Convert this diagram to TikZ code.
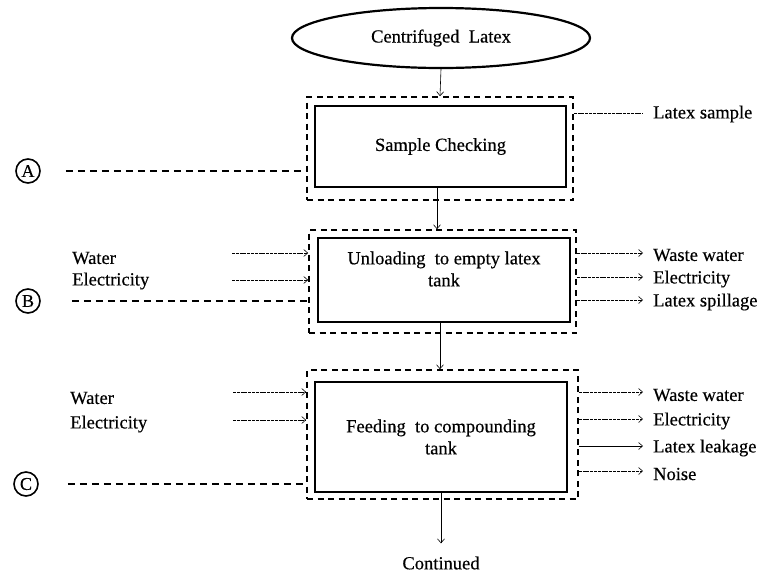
\documentclass[tikz,border=0pt]{standalone}
\usepackage{fontspec}
\setmainfont[FakeBold=0.4]{Liberation Serif}
\usetikzlibrary{arrows.meta,shapes.geometric}
\begin{document}
\begin{tikzpicture}[x=1pt,y=-1pt,
  txt/.style={font=\fontsize{18.5}{22}\selectfont, inner sep=0pt},
  solidbox/.style={draw, line width=2.6pt, inner sep=0pt, align=center, font=\fontsize{18.5}{22}\selectfont},
  dashbox/.style={draw, dash pattern=on 6pt off 4.5pt, line width=1.7pt, inner sep=0pt},
  dashline/.style={draw, dash pattern=on 7pt off 5pt, line width=1.7pt},
  letter/.style={circle, draw, line width=1.6pt, minimum size=24pt, inner sep=0pt, font=\fontsize{18}{18}\selectfont},
  barb/.style={-{Straight Barb[length=4pt,width=7pt,line width=0.6pt]}},
  thinarrow/.style={barb, line width=0.5pt, dash pattern=on 3pt off 0.8pt},
  flow/.style={line width=0.6pt},
]
\useasboundingbox (0,0) rectangle (762,574);

% top ellipse
\node[ellipse, draw, line width=2.2pt, minimum width=298pt, minimum height=60pt, font=\fontsize{18.5}{20}\selectfont] (cl) at (441,38) {Centrifuged\ \ Latex};

% stage A
\node[dashbox, minimum width=266pt, minimum height=103pt] (Ad) at (440,148.5) {};
\node[solidbox, minimum width=251pt, minimum height=81pt] (As) at (440.5,146.5) {Sample Checking};

% stage B
\node[dashbox, minimum width=267pt, minimum height=103pt] (Bd) at (442.5,281.5) {};
\node[solidbox, minimum width=252pt, minimum height=84pt] (Bs) at (444,280) {};
\node[txt, align=center] (Bt) at (444,269) {Unloading\ \ to empty latex\\tank};

% stage C
\node[dashbox, minimum width=271pt, minimum height=129pt] (Cd) at (442.5,434.5) {};
\node[solidbox, minimum width=252pt, minimum height=110pt] (Cs) at (441,437) {Feeding\ \ to compounding\\tank};

% flow connectors
\draw[flow, barb] (cl.south) -- (Ad.north);
\draw[flow, barb] (As.south -| 437,0) -- (Bd.north -| 437,0);
\draw[line width=1pt, barb] (Bs.south -| 440,0) -- (Cd.north -| 440,0);
\draw[flow, barb] (Cs.south) -- ++(0,50) coordinate (cont);
\node[txt, anchor=north] (contt) at ([yshift=-13pt]cont) {Continued};

% circled letters and dashed leaders
\node[letter] (A) at (28,171) {A};
\node[letter] (B) at (28,301) {B};
\node[letter] (C) at (26,484) {C};
\draw[dashline] ([xshift=25pt]A.east) -- (Ad.west |- A);
\draw[dashline] ([xshift=31pt]B.east) -- (Bd.west |- B);
\draw[dashline] ([xshift=29pt]C.east) -- (Cd.west |- C);

% inputs B
\node[txt, anchor=west] (Bwt) at (72,258) {Water};
\node[txt, anchor=west] (Bet) at (72,281) {Electricity};
\coordinate (Bw) at (232,253);
\coordinate (Be) at (232,280);
\draw[thinarrow] (Bw) -- (Bd.west |- Bw);
\draw[thinarrow] (Be) -- (Bd.west |- Be);

% inputs C
\node[txt, anchor=west] (Cwt) at (70,398) {Water};
\node[txt, anchor=west] (Cet) at (70,424) {Electricity};
\coordinate (Cw) at (233,392);
\coordinate (Ce) at (233,420);
\draw[thinarrow] (Cw) -- (Cd.west |- Cw);
\draw[thinarrow] (Ce) -- (Cd.west |- Ce);

% outputs A
\coordinate (Ao1) at (643,113);
\draw[line width=0.5pt, dash pattern=on 3pt off 0.8pt] (Ad.east |- Ao1) -- (Ao1);
\node[txt, anchor=west] (Aot1) at (653,114) {Latex sample};

% outputs B
\coordinate (Bo1) at (643,253);
\coordinate (Bo2) at (643,277);
\coordinate (Bo3) at (643,300);
\draw[thinarrow] (Bd.east |- Bo1) -- (Bo1);
\draw[thinarrow] (Bd.east |- Bo2) -- (Bo2);
\draw[thinarrow] (Bd.east |- Bo3) -- (Bo3);
\node[txt, anchor=west] (Bot1) at (653,255) {Waste water};
\node[txt, anchor=west] (Bot2) at (653,279) {Electricity};
\node[txt, anchor=west] (Bot3) at (653,302) {Latex spillage};

% outputs C
\coordinate (Co1) at (643,392);
\coordinate (Co2) at (643,419);
\coordinate (Co3) at (643,446);
\coordinate (Co4) at (643,471);
\draw[thinarrow] (Cd.east |- Co1) -- (Co1);
\draw[thinarrow] (Cd.east |- Co2) -- (Co2);
\draw[line width=0.7pt, barb] (Cd.east |- Co3) -- (Co3);
\draw[thinarrow] (Cd.east |- Co4) -- (Co4);
\node[txt, anchor=west] (Cot1) at (653,395) {Waste water};
\node[txt, anchor=west] (Cot2) at (653,421) {Electricity};
\node[txt, anchor=west] (Cot3) at (653,448) {Latex leakage};
\node[txt, anchor=west] (Cot4) at (653,474) {Noise};
\end{tikzpicture}
\end{document}
